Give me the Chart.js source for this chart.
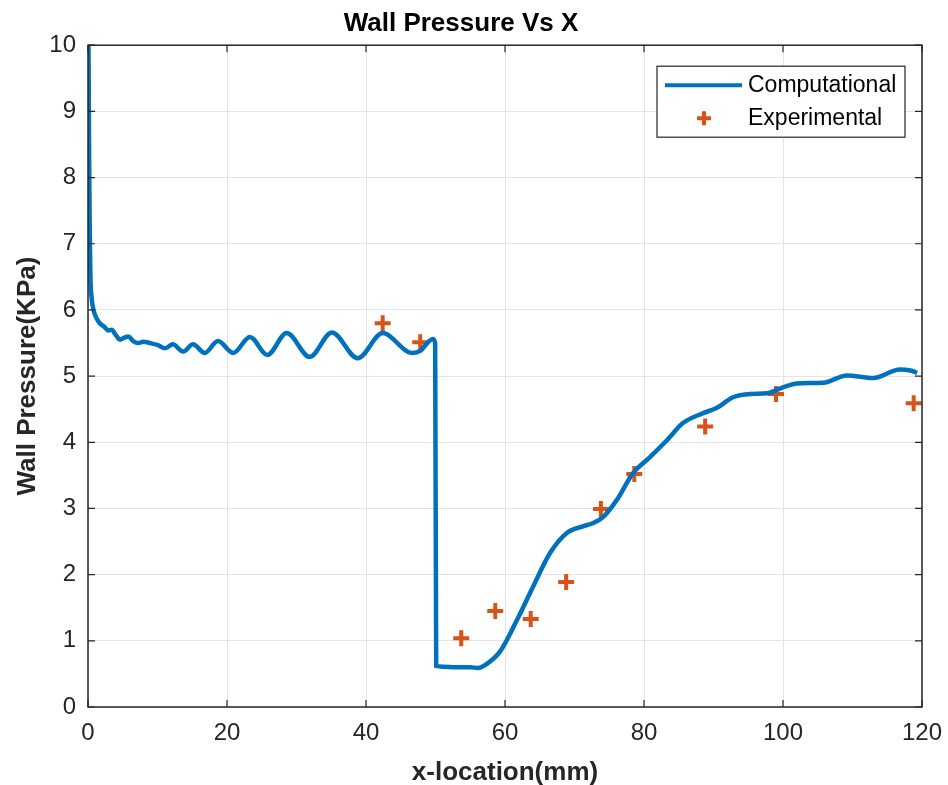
<!DOCTYPE html>
<html>
<head>
<meta charset="utf-8">
<title>Wall Pressure Vs X</title>
<script src="https://cdn.jsdelivr.net/npm/chart.js@4.4.1/dist/chart.umd.min.js"></script>
<style>
    body { margin: 0; background: #fff; }
    #wrap { width: 948px; height: 785px; }
</style>
</head>
<body>
<div id="wrap"><canvas id="pressure-chart" width="948" height="785"></canvas></div>
<script>
// Computational curve (x in mm, wall pressure in KPa)
const compX = [0.05, 0.15, 0.25, 0.35, 0.5, 0.8, 1.2, 1.7, 2.3, 2.9, 3.4, 4.0, 4.6, 5.2, 5.8, 6.5, 7.2, 8.0, 8.9, 10.0,
    11.1, 12.2, 13.7, 15.1, 16.8, 18.7, 20.9, 23.3, 25.8, 28.6, 31.9, 35.1, 38.8, 42.4, 46.6, 47.8, 49.0, 49.6, 49.95,
    50.1, 51, 53, 55, 56.1, 57.5, 59.3, 61.7, 64.0, 66.5, 68.9, 71.2, 72.7, 74.1, 76.1, 78.4, 80.9, 83.3, 85.6, 88.5,
    90.5, 92.8, 95.3, 97.7, 100, 102, 105.8, 109.2, 113, 116.8, 118.5, 119.3];
const compY = [10.5, 8.5, 7.2, 6.5, 6.2, 6.0, 5.88, 5.8, 5.75, 5.69, 5.7, 5.62, 5.55, 5.58, 5.6, 5.53, 5.5, 5.52, 5.5, 5.47,
    5.42, 5.48, 5.37, 5.48, 5.35, 5.53, 5.35, 5.59, 5.32, 5.65, 5.29, 5.66, 5.27, 5.65, 5.35, 5.38, 5.52, 5.56, 5.5,
    0.62, 0.61, 0.6, 0.6, 0.59, 0.66, 0.84, 1.31, 1.81, 2.33, 2.63, 2.73, 2.78, 2.87, 3.13, 3.53, 3.78, 4.03, 4.29, 4.44,
    4.52, 4.68, 4.73, 4.74, 4.83, 4.89, 4.9, 5.01, 4.97, 5.1, 5.08, 5.05];

// Experimental points
const expX = [42.4, 47.8, 53.7, 58.6, 63.7, 68.8, 73.8, 78.6, 88.8, 99.0, 118.8];
const expY = [5.80, 5.51, 1.04, 1.45, 1.33, 1.89, 2.99, 3.52, 4.24, 4.73, 4.59];

const seriesNames = ["Computational", "Experimental"];
const blue = "#0072BD";
const orange = "#D95319";
const axisColor = "#262626";
const fontFamily = "'Liberation Sans', Arial, sans-serif";

// frame + inward ticks + legend box, MATLAB style
const matlabFrame = {
    id: "matlabFrame",
    afterDatasetsDraw(chart) {
        const { ctx, chartArea: a, scales } = chart;
        ctx.save();
        ctx.strokeStyle = axisColor;
        ctx.lineWidth = 1.5;
        ctx.strokeRect(a.left, a.top, a.right - a.left, a.bottom - a.top);

        const tl = 7;
        ctx.lineWidth = 1.2;
        ctx.beginPath();
        scales.x.ticks.forEach((t) => {
            const px = scales.x.getPixelForValue(t.value);
            ctx.moveTo(px, a.bottom); ctx.lineTo(px, a.bottom - tl);
            ctx.moveTo(px, a.top); ctx.lineTo(px, a.top + tl);
        });
        scales.y.ticks.forEach((t) => {
            const py = scales.y.getPixelForValue(t.value);
            ctx.moveTo(a.left, py); ctx.lineTo(a.left + tl, py);
            ctx.moveTo(a.right, py); ctx.lineTo(a.right - tl, py);
        });
        ctx.stroke();

        // legend
        const w = 248, h = 71;
        const lx = a.right - 17 - w, ly = a.top + 21;
        ctx.fillStyle = "#fff";
        ctx.fillRect(lx, ly, w, h);
        ctx.strokeStyle = axisColor;
        ctx.lineWidth = 1.2;
        ctx.strokeRect(lx, ly, w, h);

        ctx.strokeStyle = blue;
        ctx.lineWidth = 4;
        ctx.beginPath();
        ctx.moveTo(lx + 8, ly + 19); ctx.lineTo(lx + 85, ly + 19);
        ctx.stroke();

        ctx.strokeStyle = orange;
        ctx.beginPath();
        ctx.moveTo(lx + 47 - 7, ly + 52); ctx.lineTo(lx + 47 + 7, ly + 52);
        ctx.moveTo(lx + 47, ly + 52 - 7); ctx.lineTo(lx + 47, ly + 52 + 7);
        ctx.stroke();

        ctx.fillStyle = "#000";
        ctx.font = "23px " + fontFamily;
        ctx.textBaseline = "middle";
        ctx.fillText(seriesNames[0], lx + 91, ly + 19);
        ctx.fillText(seriesNames[1], lx + 91, ly + 52);
        ctx.restore();
    }
};

const ctx = document.getElementById("pressure-chart").getContext("2d");
new Chart(ctx, {
    type: "scatter",
    data: {
        datasets: [
            {
                label: seriesNames[0],
                data: compX.map((x, i) => ({ x: x, y: compY[i] })),
                showLine: true,
                borderColor: blue,
                borderWidth: 4.5,
                pointRadius: 0,
                cubicInterpolationMode: "monotone",
                clip: 0,
            },
            {
                label: seriesNames[1],
                data: expX.map((x, i) => ({ x: x, y: expY[i] })),
                showLine: false,
                pointStyle: "cross",
                pointRadius: 8,
                borderWidth: 4,
                borderColor: orange,
                backgroundColor: orange,
            },
        ],
    },
    options: {
        responsive: false,
        animation: false,
        layout: { padding: { left: 0, right: 26, top: 0, bottom: 0 } },
        plugins: {
            legend: { display: false },
            tooltip: { enabled: false },
            title: {
                display: true,
                text: "Wall Pressure Vs X",
                color: "#000",
                font: { family: fontFamily, size: 26, weight: "bold" },
                padding: { top: 8, bottom: 6 },
            },
        },
        scales: {
            x: {
                type: "linear",
                min: 0,
                max: 120,
                ticks: {
                    stepSize: 20,
                    color: axisColor,
                    padding: 12,
                    font: { family: fontFamily, size: 24 },
                },
                grid: { color: "#e4e4e4", drawTicks: false },
                border: { display: false },
                title: {
                    display: true,
                    text: "x-location(mm)",
                    color: axisColor,
                    padding: { top: 0, bottom: -3 },
                    font: { family: fontFamily, size: 26, weight: "bold" },
                },
                afterFit: (scale) => {
                    scale.height = 78;
                    scale.paddingLeft = 0;
                    scale.paddingRight = 0;
                },
            },
            y: {
                type: "linear",
                min: 0,
                max: 10,
                ticks: {
                    stepSize: 1,
                    color: axisColor,
                    padding: 12,
                    font: { family: fontFamily, size: 24 },
                },
                grid: { color: "#e4e4e4", drawTicks: false },
                border: { display: false },
                title: {
                    display: true,
                    text: "Wall Pressure(KPa)",
                    color: axisColor,
                    padding: { top: 12, bottom: 0 },
                    font: { family: fontFamily, size: 26, weight: "bold" },
                },
                afterFit: (scale) => {
                    scale.width = 88;
                    scale.paddingTop = 0;
                    scale.paddingBottom = 0;
                },
            },
        },
    },
    plugins: [matlabFrame],
});
</script>
</body>
</html>
